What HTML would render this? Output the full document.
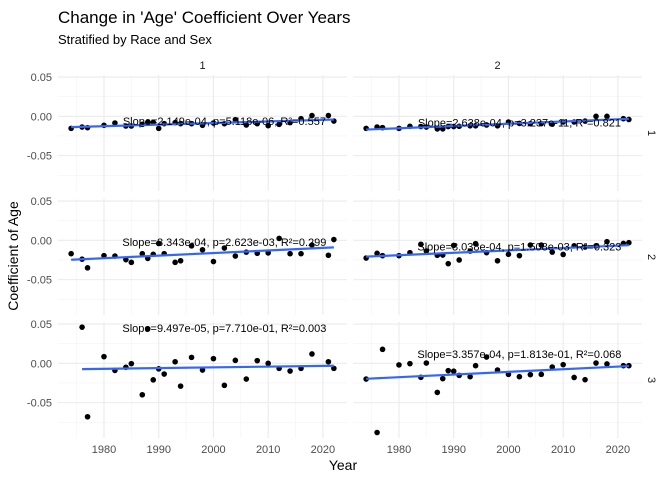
<!DOCTYPE html>
<html><head><meta charset="utf-8">
<style>
body{margin:0;background:#fff;}
svg{display:block;font-family:"Liberation Sans",sans-serif;}
</style></head>
<body>
<svg id="chart" width="672" height="480" viewBox="0 0 672 480">
<text x="58" y="23" font-size="17" fill="#000">Change in 'Age' Coefficient Over Years</text>
<text x="58" y="44" font-size="13" fill="#000">Stratified by Race and Sex</text>
<text x="343" y="470" font-size="14" text-anchor="middle" fill="#000">Year</text>
<text transform="translate(18,256) rotate(-90)" font-size="14" text-anchor="middle" fill="#000">Coefficient of Age</text>
</svg>
<script>
const years = [1974,1976,1977,1980,1982,1984,1985,1987,1988,1989,1990,1991,1993,1994,1996,1998,2000,2002,2004,2006,2008,2010,2012,2014,2016,2018,2021,2022];
const r1c1 = [-0.0153,-0.0136,-0.0144,-0.0114,-0.0085,-0.0123,-0.0123,-0.0102,-0.0076,-0.0076,-0.0153,-0.0093,-0.008,-0.0093,-0.0093,-0.0114,-0.0085,-0.0093,-0.0042,-0.011,-0.0093,-0.0119,-0.0102,-0.008,-0.003,0.001,0.001,-0.006];
const r1c2 = [-0.0153,-0.0136,-0.0144,-0.0153,-0.0127,-0.013,-0.0136,-0.016,-0.016,-0.013,-0.013,-0.0127,-0.012,-0.012,-0.011,-0.012,-0.0072,-0.009,-0.0093,-0.0093,-0.010,-0.0072,-0.0072,-0.006,0.0,0.0,-0.003,-0.004];
const r2c1 = [-0.017,-0.024,-0.035,-0.0195,-0.020,-0.0246,-0.028,-0.017,-0.023,-0.0178,-0.004,-0.017,-0.028,-0.026,-0.007,-0.012,-0.027,-0.0098,-0.020,-0.015,-0.0165,-0.016,0.0025,-0.017,-0.017,-0.006,-0.019,0.001];
const r2c2 = [-0.0225,-0.0165,-0.0195,-0.0195,-0.0157,-0.005,-0.0136,-0.019,-0.0187,-0.0297,-0.0064,-0.025,-0.0136,-0.0042,-0.0157,-0.026,-0.0178,-0.0195,-0.006,-0.006,-0.015,-0.018,-0.007,-0.0085,-0.007,-0.0017,-0.004,-0.003];
const r3c1 = [null,0.046,-0.068,0.0085,-0.009,-0.005,-0.0004,-0.040,0.044,-0.021,-0.007,-0.0136,0.002,-0.029,0.0076,-0.0085,0.006,-0.028,0.0038,-0.020,0.0034,0.0,-0.0064,-0.0098,-0.0064,0.0119,0.002,-0.0064];
const r3c2 = [-0.020,-0.088,0.0178,-0.002,-0.0004,-0.0178,0.0004,-0.037,-0.0195,-0.0093,-0.010,-0.0153,-0.017,-0.003,0.008,-0.0085,-0.014,-0.017,-0.0144,-0.014,-0.0047,-0.0017,-0.018,-0.0208,0.0004,-0.0008,-0.003,-0.003];
const seriesGrid = [[r1c1,r1c2],[r2c1,r2c2],[r3c1,r3c2]];
const annotations = [["Slope=2.149e-04, p=5.118e-06, R²=0.557","Slope=2.638e-04, p=3.237e-11, R²=0.821"],["Slope=8.343e-04, p=2.623e-03, R²=0.299","Slope=8.038e-04, p=1.508e-03, R²=0.323"],["Slope=9.497e-05, p=7.710e-01, R²=0.003","Slope=3.357e-04, p=1.813e-01, R²=0.068"]];
const annotY = [[-0.006,-0.008],[-0.002,-0.008],[0.045,0.012]];
const annotX = 2002.0;
const colLabels = ["1","2"];
const rowLabels = ["1","2","3"];
const xTicks = [1980,1990,2000,2010,2020];
const xMinor = [1975,1985,1995,2005,2015];
const yTicks = [0.05,0,-0.05];
const yTickLabels = ["0.05","0.00","-0.05"];
const yMinor = [0.025,-0.025,-0.075];

const NS="http://www.w3.org/2000/svg";
const svg=document.getElementById('chart');
const colX=[58,353], panelW=289, rowY=[75,199,322], panelH=116;
const xDom=[1971.6,2024.4], yDom=[0.0526,-0.095];
function sx(c,v){return colX[c]+(v-xDom[0])/(xDom[1]-xDom[0])*panelW;}
function sy(r,v){return rowY[r]+(v-yDom[0])/(yDom[1]-yDom[0])*panelH;}
function mk(tag,attrs,parent){const e=document.createElementNS(NS,tag);for(const k in attrs)e.setAttribute(k,attrs[k]);(parent||svg).appendChild(e);return e;}

for(let r=0;r<3;r++){for(let c=0;c<2;c++){
  const g=mk('g',{});
  
  
  const x0=colX[c],y0=rowY[r];
  yMinor.forEach(v=>{const l=mk('line',{x1:x0,x2:x0+panelW,y1:sy(r,v),y2:sy(r,v),stroke:'#f3f3f3','stroke-width':0.6},g);});
  xMinor.forEach(v=>{const l=mk('line',{x1:sx(c,v),x2:sx(c,v),y1:y0,y2:y0+panelH,stroke:'#f3f3f3','stroke-width':0.6},g);});
  yTicks.forEach(v=>{const l=mk('line',{x1:x0,x2:x0+panelW,y1:sy(r,v),y2:sy(r,v),stroke:'#ebebeb','stroke-width':1.1},g);});
  xTicks.forEach(v=>{const l=mk('line',{x1:sx(c,v),x2:sx(c,v),y1:y0,y2:y0+panelH,stroke:'#ebebeb','stroke-width':1.1},g);});
  const vals=seriesGrid[r][c];
  let n=0,sxv=0,syv=0,sxx=0,sxy=0,mn=Infinity,mxv=-Infinity;
  years.forEach((yr,i)=>{const v=vals[i];if(v==null)return;n++;sxv+=yr;syv+=v;sxx+=yr*yr;sxy+=yr*v;mn=Math.min(mn,yr);mxv=Math.max(mxv,yr);});
  const b=(n*sxy-sxv*syv)/(n*sxx-sxv*sxv),a=(syv-b*sxv)/n;
  years.forEach((yr,i)=>{const v=vals[i];if(v==null)return;
    const p=mk('circle',{cx:sx(c,yr),cy:sy(r,v),r:2.8,fill:'#000'},g);
    
    });
  const ln=mk('line',{x1:sx(c,mn),y1:sy(r,a+b*mn),x2:sx(c,mxv),y2:sy(r,a+b*mxv),stroke:'#3366FF','stroke-width':2.2},g);
  
  
  const t=mk('text',{x:sx(c,annotX),y:sy(r,annotY[r][c])+4,'font-size':11,'text-anchor':'middle',fill:'#000'},g);
  t.textContent=annotations[r][c];
  
  
}}
for(let r=0;r<3;r++){yTicks.forEach((v,i)=>{const t=mk('text',{x:52,y:sy(r,v)+4,'font-size':11,'text-anchor':'end',fill:'#4d4d4d'});t.textContent=yTickLabels[i];
  
  });}
for(let c=0;c<2;c++){xTicks.forEach(v=>{const t=mk('text',{x:sx(c,v),y:453,'font-size':11,'text-anchor':'middle',fill:'#4d4d4d'});t.textContent=String(v);
  
  });}
colLabels.forEach((s,c)=>{const t=mk('text',{x:colX[c]+panelW/2,y:69,'font-size':11,'text-anchor':'middle',fill:'#1a1a1a'});t.textContent=s;
  
  });
rowLabels.forEach((s,r)=>{const t=mk('text',{transform:'translate(648,'+(rowY[r]+panelH/2)+') rotate(90)','font-size':11,'text-anchor':'middle',fill:'#1a1a1a'});t.textContent=s;
  
  });
</script>
</body></html>
